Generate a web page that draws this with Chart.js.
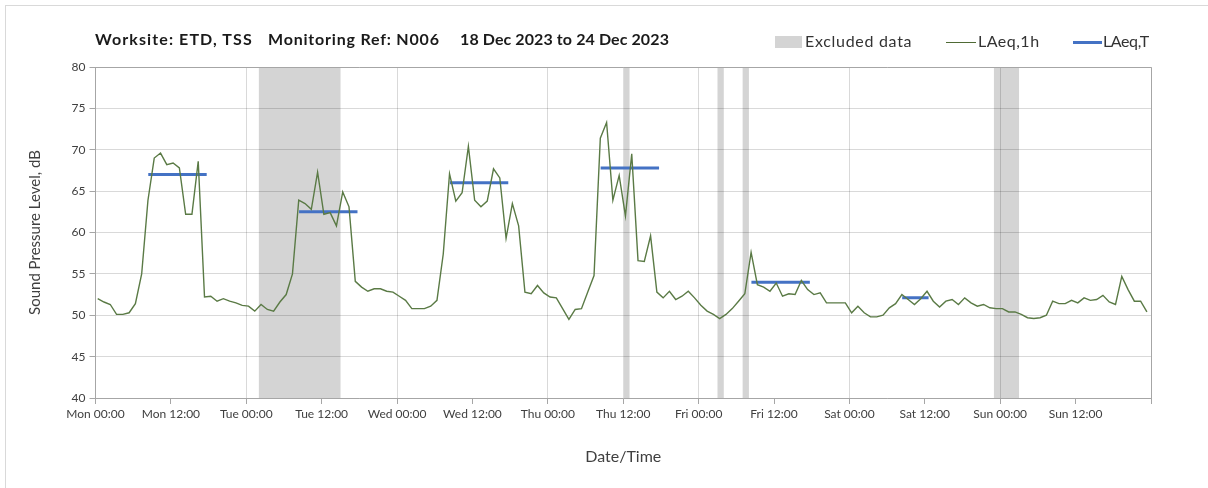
<!DOCTYPE html>
<html>
<head>
<meta charset="utf-8">
<title>N006 noise monitoring</title>
<script src="https://cdn.jsdelivr.net/npm/chart.js@4.4.1/dist/chart.umd.min.js"></script>
<style>
  body { margin:0; background:#fff; font-family:Lato, 'Noto Sans', sans-serif; }
  #wrap { position:relative; width:1208px; height:488px; overflow:hidden; }
  #frame { position:absolute; left:5px; top:5px; width:1400px; height:700px;
           border-left:1px solid #d9d9d9; border-top:1px solid #d9d9d9; }
  #chart { position:absolute; left:0; top:0; }
  .ttl { position:absolute; top:29px; font-weight:bold; font-size:16px; color:#1a1a1a; white-space:nowrap; }
  .lg  { position:absolute; top:31px; font-size:16px; color:#333; white-space:nowrap; }
  .sw  { position:absolute; }
</style>
</head>
<body>
<div id="wrap">
  <div id="frame"></div>
  <canvas id="chart" width="1208" height="488"></canvas>

  <div class="ttl" style="left:95px;letter-spacing:1.1px">Worksite: ETD, TSS</div>
  <div class="ttl" style="left:268px;letter-spacing:0.8px">Monitoring Ref: N006</div>
  <div class="ttl" style="left:460px;letter-spacing:0.1px">18 Dec 2023 to 24 Dec 2023</div>

  <div class="sw" style="left:775px;top:36px;width:27px;height:12px;background:#d4d4d4"></div>
  <div class="lg" style="left:805px;letter-spacing:0.7px">Excluded data</div>
  <div class="sw" style="left:946px;top:42px;width:30px;height:1px;background:#4f6a35"></div>
  <div class="lg" style="left:978px;letter-spacing:0.5px">LAeq,1h</div>
  <div class="sw" style="left:1073px;top:41px;width:29px;height:3px;background:#4472c4"></div>
  <div class="lg" style="left:1103px;letter-spacing:-0.4px">LAeq,T</div>
</div>

<script>
// ── Data ─────────────────────────────────────────────────────
// x axis is hours from Mon 00:00, one tick every 12 h
const tickLabels = ['Mon 00:00','Mon 12:00','Tue 00:00','Tue 12:00','Wed 00:00','Wed 12:00',
                    'Thu 00:00','Thu 12:00','Fri 00:00','Fri 12:00','Sat 00:00','Sat 12:00',
                    'Sun 00:00','Sun 12:00'];

// hourly LAeq,1h (dB), Mon 00:00 .. Sun 23:00
const laeq1h = [
  52.0,51.6,51.3,50.1,50.1,50.3,51.4,55.0,63.9,69.0,69.6,68.2,68.4,67.8,62.2,62.2,68.6,52.2,52.3,51.7,52.0,51.7,51.5,51.2,
  51.1,50.5,51.3,50.7,50.5,51.6,52.5,55.0,63.9,63.5,62.8,67.3,62.2,62.4,60.8,64.9,63.1,54.1,53.4,52.9,53.2,53.2,52.9,52.8,
  52.3,51.8,50.8,50.8,50.8,51.1,51.8,57.4,67.1,63.8,64.8,70.4,63.9,63.1,63.8,67.7,66.6,59.3,63.5,60.8,52.8,52.6,53.6,52.7,
  52.2,52.1,50.8,49.5,50.7,50.8,52.8,54.8,71.4,73.3,63.9,66.9,62.0,69.5,56.6,56.5,59.6,52.8,52.1,52.9,51.9,52.3,52.9,52.1,
  51.2,50.5,50.1,49.6,50.1,50.8,51.7,52.6,57.6,53.7,53.4,52.9,53.9,52.3,52.6,52.5,54.2,53.1,52.5,52.7,51.5,51.5,51.5,51.5,
  50.3,51.1,50.3,49.8,49.8,50.0,50.9,51.4,52.5,51.9,51.3,52.0,52.9,51.7,51.0,51.7,51.9,51.3,52.1,51.5,51.1,51.3,50.9,50.8,
  50.8,50.4,50.4,50.1,49.7,49.6,49.7,50.0,51.7,51.4,51.4,51.8,51.5,52.1,51.8,51.9,52.4,51.6,51.3,54.7,53.1,51.7,51.7,50.4
];
const hourOffset = 0.35;   // hourly points sit just after the hour mark

// LAeq,T over the working period each day
const laeqT     = [67.0, 62.5, 66.0, 67.8, 54.0, 52.1];
const laeqTFrom = [8.4, 32.4, 56.4, 80.4, 104.4, 128.4];
const laeqTTo   = [17.7, 41.7, 65.7, 89.7, 113.7, 132.6];

// excluded periods (hours from Mon 00:00)
const excludedFrom = [26, 84, 99, 103, 143];
const excludedTo   = [39, 85, 100, 104, 147];

// ── Styles ───────────────────────────────────────────────────
const FONT  = 'Lato';
const INK   = '#404040';
const AXIS  = '#a6a6a6';
const GRID  = 'rgba(0,0,0,0.15)';

// grey bands go under the grid
const excludedBands = {
  id: 'excludedBands',
  beforeDraw(chart) {
    const { ctx, chartArea: a, scales: { x } } = chart;
    ctx.save();
    ctx.fillStyle = '#d4d4d4';
    excludedFrom.forEach((f, i) => {
      const x0 = x.getPixelForValue(f), x1 = x.getPixelForValue(excludedTo[i]);
      ctx.fillRect(x0, a.top, x1 - x0, a.bottom - a.top);
    });
    ctx.restore();
  }
};

// top + right frame of the plot
const plotFrame = {
  id: 'plotFrame',
  afterDraw(chart) {
    const { ctx, chartArea: a } = chart;
    ctx.save();
    ctx.strokeStyle = AXIS; ctx.lineWidth = 1;
    ctx.beginPath();
    ctx.moveTo(a.left, a.top + 0.5); ctx.lineTo(a.right + 0.5, a.top + 0.5); ctx.lineTo(a.right + 0.5, a.bottom);
    ctx.stroke();
    ctx.restore();
  }
};

const datasets = [{
  label: 'LAeq,1h',
  data: laeq1h.map((v, i) => ({ x: i + hourOffset, y: v })),
  borderColor: '#5a7a45', borderWidth: 1.4, pointRadius: 0, tension: 0
}];
laeqT.forEach((v, i) => {
  datasets.push({
    label: 'LAeq,T',
    data: [{ x: laeqTFrom[i], y: v }, { x: laeqTTo[i], y: v }],
    borderColor: '#4472c4', borderWidth: 3, pointRadius: 0
  });
});

new Chart(document.getElementById('chart'), {
  type: 'line',
  data: { datasets },
  plugins: [excludedBands, plotFrame],
  options: {
    responsive: false, animation: false,
    layout: { padding: { left: 22, top: 67, right: 57, bottom: 18 } },
    plugins: { legend: { display: false }, tooltip: { enabled: false } },
    scales: {
      x: {
        type: 'linear', min: 0, max: 168,
        afterFit: s => { s.height = 72; },
        ticks: {
          stepSize: 12, autoSkip: false, maxRotation: 0, padding: 3,
          color: INK, font: { family: FONT, size: 12 },
          callback: v => tickLabels[v / 12] ?? ''
        },
        grid: {
          color: c => (c.tick && c.tick.value % 24 === 0) ? GRID : 'transparent',
          tickColor: AXIS, tickLength: 6, drawTicks: true
        },
        border: { color: AXIS },
        title: { display: true, text: 'Date/Time', color: INK, font: { family: FONT, size: 16 } }
      },
      y: {
        min: 40, max: 80,
        afterFit: s => { s.width = 73.5; },
        ticks: { stepSize: 5, padding: 4, color: INK, font: { family: FONT, size: 12 } },
        grid: { color: GRID, tickColor: AXIS, tickLength: 6 },
        border: { color: AXIS },
        title: { display: true, text: 'Sound Pressure Level, dB', color: INK, font: { family: FONT, size: 15 } }
      }
    }
  }
});
</script>
</body>
</html>
